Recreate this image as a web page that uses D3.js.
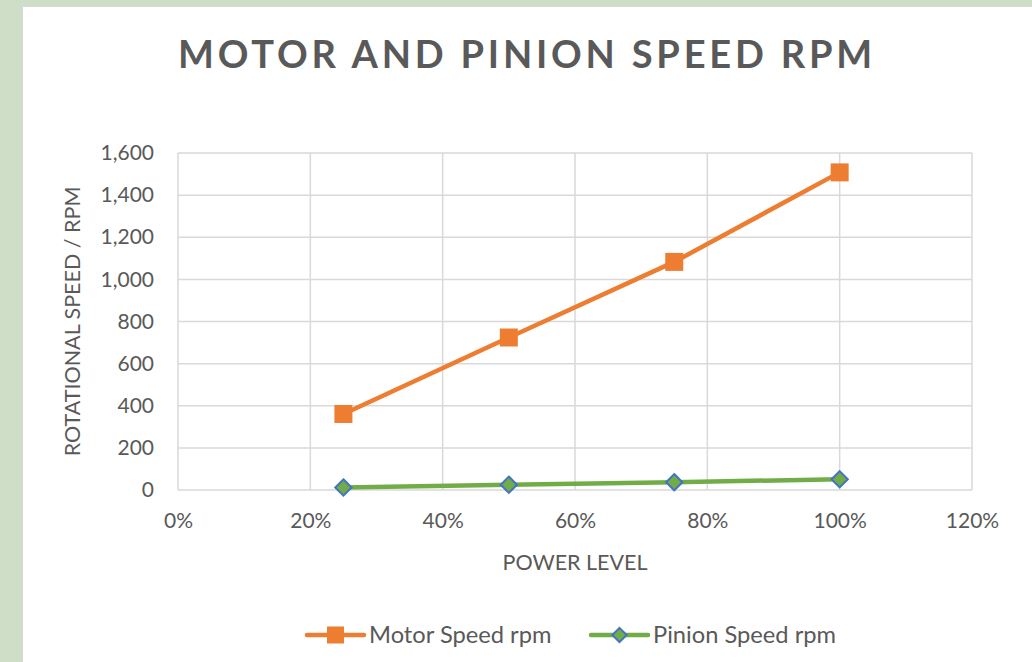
<!DOCTYPE html>
<html>
<head>
<meta charset="utf-8">
<script src="https://cdn.jsdelivr.net/npm/d3@7"></script>
<style>
  body { margin: 0; background: #cfdec6; }
  svg { display: block; font-family: Lato, "Open Sans", sans-serif; }
</style>
</head>
<body>
<script>
// chart data
var powerLevels = [0.25, 0.5, 0.75, 1.0];
var motorSpeed = [361, 724, 1083, 1508];
var pinionSpeed = [12, 25, 37, 51];
var xTicks = [0, 0.2, 0.4, 0.6, 0.8, 1.0, 1.2];
var yTicks = [0, 200, 400, 600, 800, 1000, 1200, 1400, 1600];
var seriesNames = ['Motor Speed rpm', 'Pinion Speed rpm'];

var width = 1032, height = 662;
var plot = { left: 178, right: 972, top: 153, bottom: 490 };

var svg = d3.select('body').append('svg')
    .attr('width', width)
    .attr('height', height);

svg.append('rect').attr('width', width).attr('height', height).attr('fill', '#cfdec6');
svg.append('rect')
    .attr('x', 22.5).attr('y', 6.5)
    .attr('width', width).attr('height', height)
    .attr('fill', '#fff').attr('stroke', '#d9d9d9').attr('stroke-width', 1);

var x = d3.scaleLinear().domain([0, 1.2]).range([plot.left, plot.right]);
var y = d3.scaleLinear().domain([0, 1600]).range([plot.bottom, plot.top]);

// title
svg.append('text')
    .attr('x', 527).attr('y', 68)
    .attr('text-anchor', 'middle')
    .attr('fill', '#595959')
    .style('font-size', '38px')
    .style('font-weight', 'bold')
    .style('letter-spacing', '3.8px')
    .text('MOTOR AND PINION SPEED RPM');

// grid
var grid = svg.append('g').attr('class', 'grid');
grid.selectAll('line.h').data(yTicks).enter().append('line')
    .attr('x1', plot.left).attr('x2', plot.right)
    .attr('y1', function(d) { return y(d); }).attr('y2', function(d) { return y(d); })
    .attr('stroke', '#d9d9d9').attr('stroke-width', 1.5);
grid.selectAll('line.v').data(xTicks).enter().append('line')
    .attr('y1', plot.top).attr('y2', plot.bottom)
    .attr('x1', function(d) { return x(d); }).attr('x2', function(d) { return x(d); })
    .attr('stroke', '#d9d9d9').attr('stroke-width', 1.5);

// axes
var yAxis = svg.append('g')
    .attr('transform', 'translate(' + plot.left + ',0)')
    .call(d3.axisLeft(y).tickValues(yTicks).tickSize(0).tickPadding(24).tickFormat(d3.format(',')));
var xAxis = svg.append('g')
    .attr('transform', 'translate(0,' + plot.bottom + ')')
    .call(d3.axisBottom(x).tickValues(xTicks).tickSize(0).tickPadding(23).tickFormat(d3.format('.0%')));
[xAxis, yAxis].forEach(function(a) {
    a.select('.domain').remove();
    a.selectAll('text').attr('fill', '#595959').style('font-size', '21px').style('font-family', 'Lato, "Open Sans", sans-serif');
});

svg.append('text')
    .attr('transform', 'translate(80,' + ((plot.top + plot.bottom) / 2) + ') rotate(-90)')
    .attr('text-anchor', 'middle')
    .attr('fill', '#595959')
    .style('font-size', '21.5px')
    .text('ROTATIONAL SPEED / RPM');
svg.append('text')
    .attr('x', 575).attr('y', 570)
    .attr('text-anchor', 'middle')
    .attr('fill', '#595959')
    .style('font-size', '21.5px')
    .text('POWER LEVEL');

var line = d3.line()
    .x(function(d) { return x(d[0]); })
    .y(function(d) { return y(d[1]); });

var motor = d3.zip(powerLevels, motorSpeed);
var pinion = d3.zip(powerLevels, pinionSpeed);

svg.append('path').datum(motor).attr('d', line)
    .attr('fill', 'none').attr('stroke', '#ed7d31').attr('stroke-width', 4.5);
svg.append('path').datum(pinion).attr('d', line)
    .attr('fill', 'none').attr('stroke', '#70ad47').attr('stroke-width', 4.5);

var square = d3.symbol().type(d3.symbolSquare).size(324);
var diamond = d3.symbol().type(d3.symbolDiamond2).size(170);

svg.selectAll('path.motor').data(motor).enter().append('path')
    .attr('class', 'motor')
    .attr('d', square)
    .attr('transform', function(d) { return 'translate(' + x(d[0]) + ',' + y(d[1]) + ')'; })
    .attr('fill', '#ed7d31');
svg.selectAll('path.pinion').data(pinion).enter().append('path')
    .attr('class', 'pinion')
    .attr('d', diamond)
    .attr('transform', function(d) { return 'translate(' + x(d[0]) + ',' + y(d[1]) + ')'; })
    .attr('fill', '#70ad47').attr('stroke', '#4472c4').attr('stroke-width', 2);

// legend
var legendY = 635;
var legendItems = [
    { name: seriesNames[0], x: 307, color: '#ed7d31', marker: d3.symbol().type(d3.symbolSquare).size(289), stroke: null },
    { name: seriesNames[1], x: 591, color: '#70ad47', marker: d3.symbol().type(d3.symbolDiamond2).size(130), stroke: '#4472c4' }
];
var legend = svg.selectAll('g.legend').data(legendItems).enter().append('g')
    .attr('class', 'legend')
    .attr('transform', function(d) { return 'translate(' + d.x + ',' + legendY + ')'; });
legend.append('line')
    .attr('x1', 0).attr('x2', 57)
    .attr('stroke', function(d) { return d.color; })
    .attr('stroke-width', 4.5).attr('stroke-linecap', 'round');
legend.append('path')
    .attr('transform', 'translate(28.5,0)')
    .attr('d', function(d) { return d.marker(); })
    .attr('fill', function(d) { return d.color; })
    .attr('stroke', function(d) { return d.stroke || 'none'; })
    .attr('stroke-width', 2);
legend.append('text')
    .attr('x', 62).attr('y', 8)
    .attr('fill', '#595959')
    .style('font-size', '23.7px')
    .text(function(d) { return d.name; });
</script>
</body>
</html>
